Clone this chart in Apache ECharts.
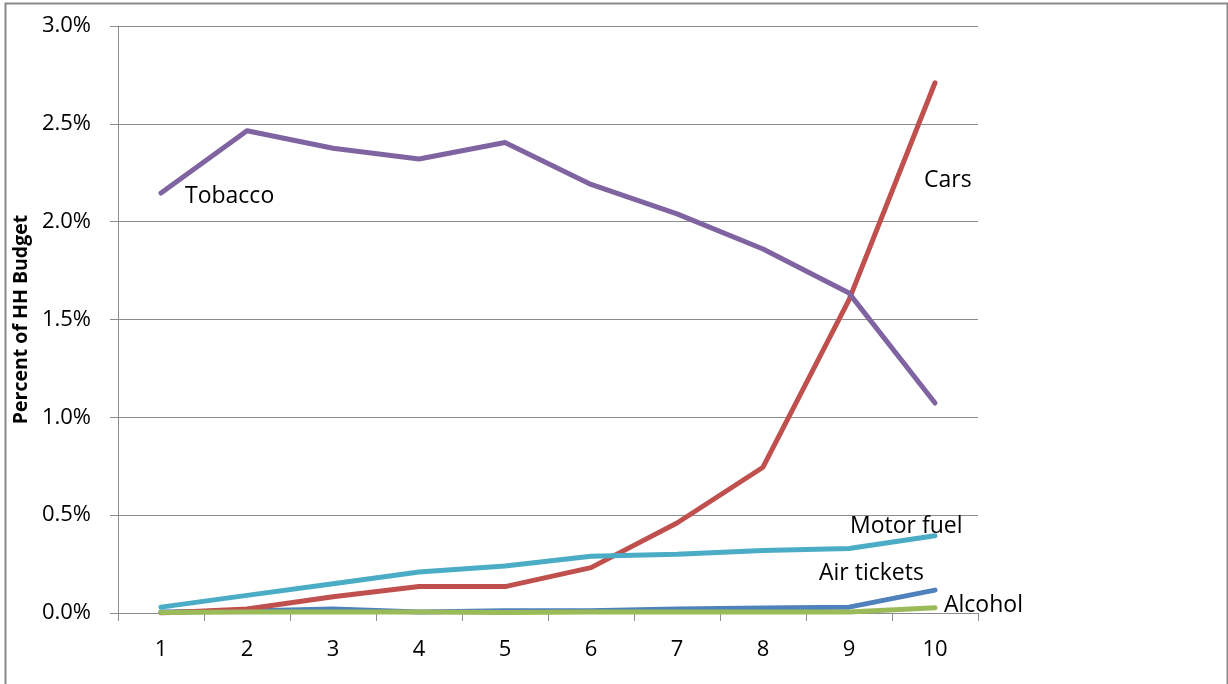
<!DOCTYPE html>
<html>
<head>
<meta charset="utf-8">
<title>Percent of HH Budget by decile</title>
<script src="https://cdn.jsdelivr.net/npm/echarts@6/dist/echarts.min.js"></script>
<style>
  html, body { margin: 0; padding: 0; background: #ffffff; }
  #chart { width: 1228px; height: 684px; }
</style>
</head>
<body>
<div id="chart"></div>
<script>
// Budget deciles on the horizontal axis
const categories = ['1', '2', '3', '4', '5', '6', '7', '8', '9', '10'];

// Share of household budget (percent) per decile
const airTickets = [0.005, 0.01, 0.02, 0.005, 0.012, 0.012, 0.02, 0.025, 0.03, 0.117];
const cars       = [0.0, 0.02, 0.083, 0.135, 0.135, 0.232, 0.46, 0.745, 1.60, 2.71];
const alcohol    = [0.003, 0.005, 0.005, 0.005, 0.003, 0.005, 0.005, 0.005, 0.005, 0.027];
const tobacco    = [2.146, 2.465, 2.375, 2.32, 2.405, 2.19, 2.04, 1.86, 1.635, 1.073];
const motorFuel  = [0.03, 0.09, 0.15, 0.21, 0.24, 0.29, 0.30, 0.32, 0.33, 0.395];

// Y-axis range and step (percent)
const yMin = 0;
const yMax = 3;
const yStep = 0.5;

const FONT = '"Open Sans", "Noto Sans", sans-serif';
const GRID_COLOR = '#8c8c8c';

// Attach a name label to one point of a series, placed relative to that point
function labelled(values, index, text, shift) {
  return values.map((v, i) => i === index ? {
    value: v,
    label: {
      show: true,
      formatter: text,
      position: shift,
      align: 'left',
      verticalAlign: 'middle',
      color: '#000000',
      fontFamily: FONT,
      fontSize: 23
    }
  } : v);
}

function lineSeries(name, color, data) {
  return {
    name: name,
    type: 'line',
    data: data,
    showSymbol: true,
    showAllSymbol: true,
    symbol: 'circle',
    symbolSize: 0,
    silent: true,
    lineStyle: { color: color, width: 5, cap: 'round', join: 'round' },
    itemStyle: { color: 'rgba(0,0,0,0)' },
    emphasis: { disabled: true }
  };
}

const chart = echarts.init(document.getElementById('chart'), null, { renderer: 'canvas' });

chart.setOption({
  backgroundColor: '#ffffff',
  animation: false,
  graphic: [{
    type: 'rect',
    left: 3,
    top: 1,
    shape: { x: 0, y: 0, width: 1222, height: 720 },
    style: { fill: 'none', stroke: '#8a8a8a', lineWidth: 2 },
    silent: true,
    z: -1
  }],
  grid: { left: 118, right: 250, top: 26, bottom: 71, containLabel: false },
  xAxis: {
    type: 'category',
    data: categories,
    boundaryGap: true,
    axisLine: { show: true, lineStyle: { color: GRID_COLOR, width: 1 } },
    axisTick: { show: true, interval: 0, length: 8, inside: false, lineStyle: { color: GRID_COLOR, width: 1 } },
    axisLabel: { color: '#000000', fontFamily: FONT, fontSize: 22, margin: 26, interval: 0 },
    splitLine: { show: false }
  },
  yAxis: {
    type: 'value',
    min: yMin,
    max: yMax,
    interval: yStep,
    name: 'Percent of HH Budget',
    nameLocation: 'middle',
    nameGap: 84,
    nameRotate: 90,
    nameTextStyle: { color: '#000000', fontFamily: FONT, fontSize: 19.5, fontWeight: 'bold' },
    axisLine: { show: true, lineStyle: { color: GRID_COLOR, width: 1 } },
    axisTick: { show: true, length: 8, inside: false, lineStyle: { color: GRID_COLOR, width: 1 } },
    axisLabel: {
      color: '#000000', fontFamily: FONT, fontSize: 22, margin: 27,
      formatter: v => v.toFixed(1) + '%'
    },
    splitLine: { show: true, lineStyle: { color: GRID_COLOR, width: 1 } }
  },
  series: [
    lineSeries('Air tickets', '#4F81BD', labelled(airTickets, 9, 'Air tickets', [-116, -17])),
    lineSeries('Cars',        '#C0504D', labelled(cars, 9, 'Cars', [-11, 98])),
    lineSeries('Alcohol',     '#9BBB59', labelled(alcohol, 9, 'Alcohol', [9, -2])),
    lineSeries('Tobacco',     '#8064A2', labelled(tobacco, 0, 'Tobacco', [24, 3])),
    lineSeries('Motor fuel',  '#4BACC6', labelled(motorFuel, 9, 'Motor fuel', [-85, -9]))
  ]
});
</script>
</body>
</html>
